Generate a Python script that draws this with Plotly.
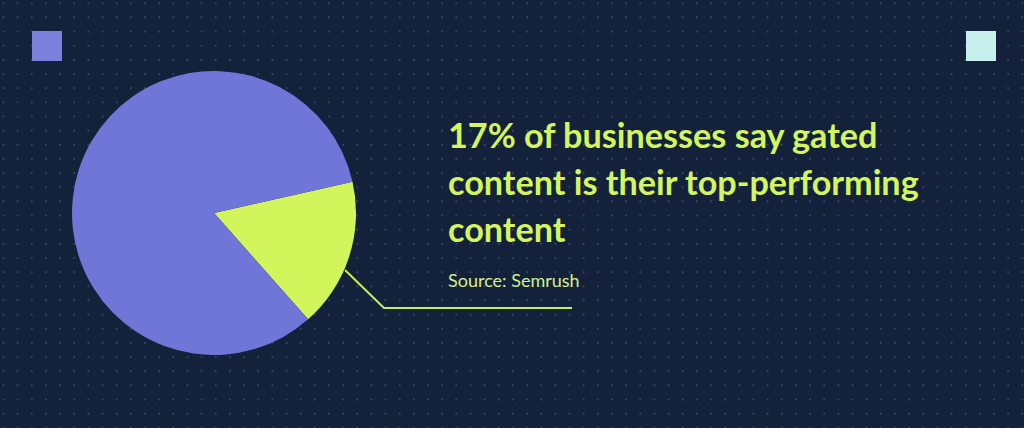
import numpy as np
import plotly.graph_objects as go

# ---- data ----
labels = ["Gated content top-performing", "Other"]
values = [17, 83]
slice_colors = ["#d2f55b", "#6f76d8"]
title_lines = ["17% of businesses say gated", "content is their top-performing", "content"]
source_text = "Source: Semrush"

W, H = 1024, 428
BG = "#13213b"

fig = go.Figure()

# decorative dot grid background
step = 14.15
gx = np.arange(3.5, W, step)
gy = np.arange(3.3, H, step)
XX, YY = np.meshgrid(gx, gy)
fig.add_trace(go.Scatter(
    x=XX.ravel(), y=YY.ravel(), mode="markers",
    marker=dict(size=2.2, color="#34456a"),
    hoverinfo="skip", showlegend=False,
))

# pie
fig.add_trace(go.Pie(
    labels=labels, values=values, sort=False, direction="clockwise",
    rotation=77.3,
    marker=dict(colors=slice_colors, line=dict(width=0)),
    textinfo="none", hoverinfo="skip", showlegend=False,
    domain=dict(x=[72 / W, 356 / W], y=[1 - 355 / H, 1 - 71 / H]),
))

shapes = [
    # squares
    dict(type="rect", x0=32, x1=62, y0=31, y1=61, fillcolor="#7b80dc", line=dict(width=0), layer="above"),
    dict(type="rect", x0=966, x1=996, y0=31, y1=61, fillcolor="#c6efee", line=dict(width=0), layer="above"),
    # leader line
    dict(type="path", path="M 345 270 L 384 308 L 572 308",
         line=dict(color="#c9ec5a", width=2), layer="above"),
]

annotations = []
for i, t in enumerate(title_lines):
    annotations.append(dict(
        x=446, y=149 + 47 * i, xref="x", yref="y", text=t, showarrow=False,
        xanchor="left", yanchor="bottom", yshift=-8,
        font=dict(family="Lato", size=34.2, color="#d4f55c", weight="bold"),
    ))
annotations.append(dict(
    x=446, y=289, xref="x", yref="y", text=source_text, showarrow=False,
    xanchor="left", yanchor="bottom", yshift=-4,
    font=dict(family="Lato", size=18, color="#d3ef8c"),
))

fig.update_layout(
    width=W, height=H, margin=dict(l=0, r=0, t=0, b=0),
    paper_bgcolor=BG, plot_bgcolor=BG,
    xaxis=dict(range=[0, W], visible=False, fixedrange=True, domain=[0, 1]),
    yaxis=dict(range=[H, 0], visible=False, fixedrange=True, domain=[0, 1]),
    shapes=shapes, annotations=annotations,
)

fig.write_html(
    "out.html",
    config={"displayModeBar": False},
    post_script="document.body.style.margin='0';document.documentElement.style.overflow='hidden';document.body.style.background='" + BG + "';",
)
